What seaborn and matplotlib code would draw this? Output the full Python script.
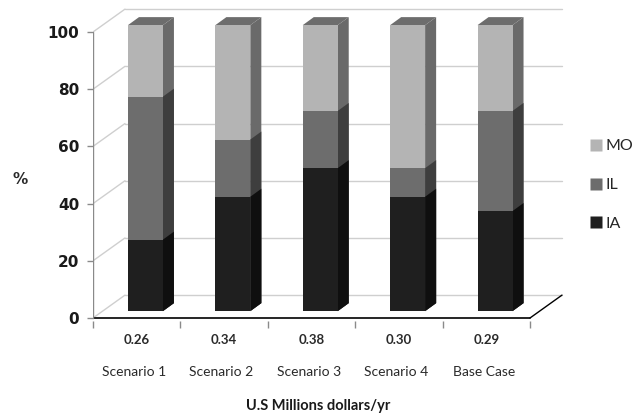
import matplotlib
matplotlib.use("Agg")
import matplotlib.pyplot as plt
from matplotlib.patches import Polygon
from matplotlib.lines import Line2D
import seaborn as sns
import pandas as pd
import numpy as np

# Data
scenarios = ["Scenario 1", "Scenario 2", "Scenario 3", "Scenario 4", "Base Case"]
costs = ["0.26", "0.34", "0.38", "0.30", "0.29"]
ia = [25, 40, 50, 40, 35]
il = [50, 20, 20, 10, 35]
mo = [25, 40, 30, 50, 30]

front_colors = {"IA": "#1f1f1f", "IL": "#6d6d6d", "MO": "#b4b4b4"}
side_colors = {"IA": "#0f0f0f", "IL": "#3e3e3e", "MO": "#6a6a6a"}
top_color = "#6d6d6d"

sns.set_theme(style="white")
plt.rcParams["font.family"] = ["DejaVu Sans"]

fig = plt.figure(figsize=(6.37, 4.17), dpi=100)
W, H = 637, 417
px_x = 87.4   # pixels per category unit
px_y = 2.86   # pixels per percent
x_lo, x_hi = -0.5, 4.95
y_lo, y_hi = -1.0, 110.0
left_px, zero_px = 93, 318
ax = fig.add_axes([
    (left_px + (x_lo + 0.5) * px_x) / W,
    (H - (zero_px - y_lo * px_y)) / H,
    (x_hi - x_lo) * px_x / W,
    (y_hi - y_lo) * px_y / H,
])

# depth of the chart box and of the bars (data units)
wall_dx, wall_dy = 0.366, 8.0
bar_off_x, bar_off_y = 0.10, 2.4
side_dx, side_dy = 0.126, 2.8
bar_w = 0.40
n = len(scenarios)

# stacked bars (cumulative heights, tallest drawn first)
cum_il = [a + b for a, b in zip(ia, il)]
cum_mo = [a + b + c for a, b, c in zip(ia, il, mo)]
df = pd.DataFrame({"scenario": scenarios, "IA": ia, "IL": cum_il, "MO": cum_mo})

for name in ["MO", "IL", "IA"]:
    before = len(ax.patches)
    sns.barplot(data=df, x="scenario", y=name, color=front_colors[name],
                width=bar_w, saturation=1, ax=ax, zorder=3, linewidth=0)
    for p in ax.patches[before:]:
        p.set_x(p.get_x() + bar_off_x)
        p.set_y(bar_off_y)
        p.set_facecolor(front_colors[name])
        x1 = p.get_x() + p.get_width()
        y0 = p.get_y()
        y1 = y0 + p.get_height()
        side = Polygon([(x1, y0), (x1 + side_dx, y0 + side_dy),
                        (x1 + side_dx, y1 + side_dy), (x1, y1)],
                       closed=True, facecolor=side_colors[name],
                       edgecolor="none", zorder=2.9)
        ax.add_patch(side)
        if name == "MO":
            x0 = p.get_x()
            top = Polygon([(x0, y1), (x0 + side_dx, y1 + side_dy),
                           (x1 + side_dx, y1 + side_dy), (x1, y1)],
                          closed=True, facecolor=top_color,
                          edgecolor="none", zorder=2.9)
            ax.add_patch(top)

ax.set_xlim(x_lo, x_hi)
ax.set_ylim(y_lo, y_hi)

# back wall and left wall gridlines
grid_c = "#cfcfcf"
for v in range(0, 101, 20):
    ax.plot([-0.5 + wall_dx, 4.5 + wall_dx], [v + wall_dy, v + wall_dy],
            color=grid_c, lw=1.0, zorder=1.5, scalex=False, scaley=False)
    ax.plot([-0.5, -0.5 + wall_dx], [v, v + wall_dy],
            color=grid_c, lw=1.0, zorder=1.5, scalex=False, scaley=False)

# floor front edge and right edge
ax.plot([-0.5, 4.5], [0, 0], color="black", lw=1.2, zorder=4,
        scalex=False, scaley=False)
ax.plot([4.5, 4.5 + wall_dx], [0, wall_dy], color="black", lw=1.0, zorder=4,
        scalex=False, scaley=False)
# front left axis
ax.plot([-0.5, -0.5], [0, 100], color="#8a8a8a", lw=1.0, zorder=4,
        scalex=False, scaley=False)

for s in ax.spines.values():
    s.set_visible(False)

# y ticks
ax.set_yticks(range(0, 101, 20))
ax.set_yticklabels([str(v) for v in range(0, 101, 20)], fontsize=11,
                   fontweight="bold", color="#1a1a1a")
ax.tick_params(axis="y", length=4, width=1, color="#8a8a8a", pad=6, left=True)
# x ticks on category boundaries, labels as text
ax.set_xticks(np.arange(-0.5, n, 1.0))
ax.set_xticklabels([])
ax.tick_params(axis="x", length=5, width=1, color="#8a8a8a", bottom=True)
ax.set_xlabel("")
ax.set_ylabel("")
ax.set_xlim(x_lo, x_hi)
ax.set_ylim(y_lo, y_hi)

for i in range(n):
    ax.text(i, -(340 - zero_px) / px_y, costs[i], ha="center", va="center",
            fontsize=9.5, fontweight="bold", color="#2a2a2a", fontfamily="Lato")
for i in range(n):
    ax.text(i - 0.03, -(372 - zero_px) / px_y, scenarios[i], ha="center",
            va="center", fontsize=10, color="#2a2a2a", fontfamily="Lato")

fig.text(318 / W, 1 - 406 / H, "U.S Millions dollars/yr", ha="center",
         va="center", fontsize=10.5, fontweight="bold", color="#1a1a1a",
         fontfamily="Lato")
fig.text(20 / W, 1 - 179 / H, "%", ha="center", va="center", fontsize=11,
         fontweight="bold", color="#2a2a2a")

# legend
handles = [Line2D([0], [0], marker="s", linestyle="none", markersize=8,
                  markerfacecolor=front_colors[k], markeredgecolor="none")
           for k in ["MO", "IL", "IA"]]
fig.legend(handles, ["MO", "IL", "IA"], loc="center left",
           bbox_to_anchor=(574 / W, 1 - 185 / H), frameon=False,
           labelspacing=1.55, handletextpad=0.1, handlelength=1.0,
           prop={"family": "Lato", "size": 11.5})

fig.savefig("out.png", dpi=100)
